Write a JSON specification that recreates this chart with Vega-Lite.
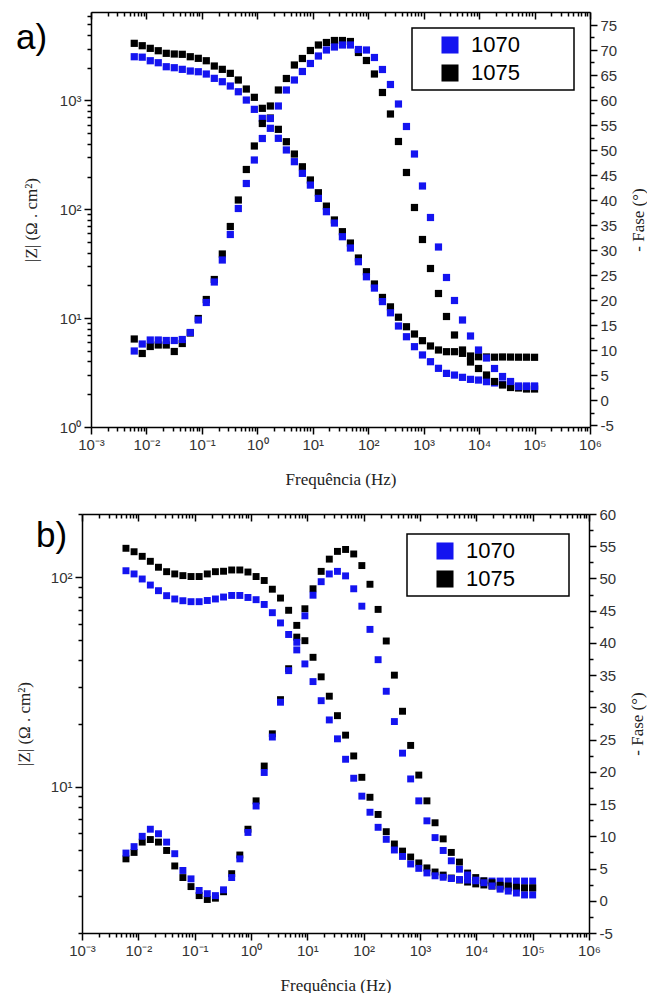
{
"$schema": "https://vega.github.io/schema/vega-lite/v6.json",
"padding": {"left": 15, "top": 8, "right": 0, "bottom": 0},
"autosize": {"type": "pad"},
"config": {
  "view": {"stroke": null},
  "axis": {"domainColor": "black", "domainWidth": 1.5, "tickColor": "black", "tickWidth": 1.5, "labelFont": "Liberation Sans", "labelFontSize": 15, "labelColor": "#333333", "titleFont": "Liberation Serif", "titleFontSize": 17, "titleFontWeight": "normal", "titleColor": "#222222", "grid": false, "labelFlush": false, "labelOverlap": false, "labelPadding": 3},
  "legend": {"strokeWidth": 1.5}
},
"datasets": {
"a": [
{"f":0.00603,"s":"1075","z":3350,"p":12.2},{"f":0.0084,"s":"1075","z":3185,"p":9.3},{"f":0.01172,"s":"1075","z":3013,"p":10.7},{"f":0.01634,"s":"1075","z":2865,"p":11.0},{"f":0.02278,"s":"1075","z":2712,"p":11.0},{"f":0.03177,"s":"1075","z":2673,"p":9.7},{"f":0.0443,"s":"1075","z":2655,"p":11.3},{"f":0.06177,"s":"1075","z":2523,"p":13.4},{"f":0.08613,"s":"1075","z":2439,"p":16.3},{"f":0.1201,"s":"1075","z":2318,"p":20.1},
{"f":0.1675,"s":"1075","z":2073,"p":24.1},{"f":0.2335,"s":"1075","z":1932,"p":29.2},{"f":0.3256,"s":"1075","z":1775,"p":34.7},{"f":0.4541,"s":"1075","z":1542,"p":40.0},{"f":0.6332,"s":"1075","z":1274,"p":46.1},{"f":0.8831,"s":"1075","z":1069,"p":50.8},{"f":1.231,"s":"1075","z":847,"p":55.3},{"f":1.717,"s":"1075","z":690,"p":58.8},{"f":2.394,"s":"1075","z":543,"p":62.0},{"f":3.339,"s":"1075","z":418,"p":64.3},
{"f":4.656,"s":"1075","z":322,"p":67.0},{"f":6.493,"s":"1075","z":246,"p":68.3},{"f":9.053,"s":"1075","z":186,"p":69.9},{"f":12.62,"s":"1075","z":142,"p":71.0},{"f":17.61,"s":"1075","z":107,"p":71.5},{"f":24.55,"s":"1075","z":79.8,"p":71.9},{"f":34.23,"s":"1075","z":62.3,"p":71.9},{"f":47.74,"s":"1075","z":49.0,"p":71.7},{"f":66.57,"s":"1075","z":35.7,"p":69.5},{"f":92.82,"s":"1075","z":26.7,"p":67.9},
{"f":129.4,"s":"1075","z":20.6,"p":65.2},{"f":180.5,"s":"1075","z":15.5,"p":61.5},{"f":251.7,"s":"1075","z":12.7,"p":57.2},{"f":351,"s":"1075","z":10.2,"p":51.7},{"f":489.4,"s":"1075","z":8.34,"p":45.5},{"f":682.4,"s":"1075","z":7.15,"p":38.5},{"f":951.5,"s":"1075","z":6.21,"p":32.1},{"f":1327,"s":"1075","z":5.55,"p":26.3},{"f":1850,"s":"1075","z":5.10,"p":21.3},{"f":2580,"s":"1075","z":4.92,"p":16.7},
{"f":3597,"s":"1075","z":4.92,"p":13.0},{"f":5016,"s":"1075","z":4.75,"p":10.0},{"f":6995,"s":"1075","z":4.49,"p":7.6},{"f":9754,"s":"1075","z":4.42,"p":6.3},{"f":13600,"s":"1075","z":4.40,"p":5.0},{"f":18970,"s":"1075","z":4.38,"p":3.7},{"f":26450,"s":"1075","z":4.40,"p":3.0},{"f":36880,"s":"1075","z":4.39,"p":2.5},{"f":51430,"s":"1075","z":4.38,"p":2.4},{"f":71710,"s":"1075","z":4.38,"p":2.2},{"f":100000,"s":"1075","z":4.37,"p":2.2},
{"f":0.00603,"s":"1070","z":2523,"p":9.8},{"f":0.0084,"s":"1070","z":2500,"p":11.2},{"f":0.01172,"s":"1070","z":2318,"p":12.0},{"f":0.01634,"s":"1070","z":2222,"p":12.0},{"f":0.02278,"s":"1070","z":2042,"p":11.9},{"f":0.03177,"s":"1070","z":2000,"p":11.9},{"f":0.0443,"s":"1070","z":1932,"p":12.1},{"f":0.06177,"s":"1070","z":1865,"p":13.5},{"f":0.08613,"s":"1070","z":1837,"p":16.0},{"f":0.1201,"s":"1070","z":1750,"p":19.5},
{"f":0.1675,"s":"1070","z":1597,"p":23.6},{"f":0.2335,"s":"1070","z":1487,"p":28.0},{"f":0.3256,"s":"1070","z":1358,"p":33.1},{"f":0.4541,"s":"1070","z":1203,"p":38.3},{"f":0.6332,"s":"1070","z":1009,"p":43.3},{"f":0.8831,"s":"1070","z":829,"p":48.0},{"f":1.231,"s":"1070","z":685,"p":52.3},{"f":1.717,"s":"1070","z":555,"p":56.3},{"f":2.394,"s":"1070","z":449,"p":58.8},{"f":3.339,"s":"1070","z":351,"p":62.0},
{"f":4.656,"s":"1070","z":274,"p":64.0},{"f":6.493,"s":"1070","z":214,"p":65.7},{"f":9.053,"s":"1070","z":167,"p":67.3},{"f":12.62,"s":"1070","z":126,"p":68.8},{"f":17.61,"s":"1070","z":95.1,"p":70.0},{"f":24.55,"s":"1070","z":74.8,"p":70.6},{"f":34.23,"s":"1070","z":56.0,"p":71.0},{"f":47.74,"s":"1070","z":44.1,"p":71.0},{"f":66.57,"s":"1070","z":33.0,"p":70.1},{"f":92.82,"s":"1070","z":24.0,"p":70.0},
{"f":129.4,"s":"1070","z":18.9,"p":68.5},{"f":180.5,"s":"1070","z":14.2,"p":66.1},{"f":251.7,"s":"1070","z":11.2,"p":63.1},{"f":351,"s":"1070","z":8.47,"p":59.2},{"f":489.4,"s":"1070","z":6.75,"p":54.7},{"f":682.4,"s":"1070","z":5.47,"p":49.2},{"f":951.5,"s":"1070","z":4.59,"p":42.8},{"f":1327,"s":"1070","z":3.98,"p":36.5},{"f":1850,"s":"1070","z":3.46,"p":30.6},{"f":2580,"s":"1070","z":3.11,"p":24.5},
{"f":3597,"s":"1070","z":3.00,"p":19.9},{"f":5016,"s":"1070","z":2.86,"p":16.0},{"f":6995,"s":"1070","z":2.74,"p":12.8},{"f":9754,"s":"1070","z":2.70,"p":10.0},{"f":13600,"s":"1070","z":2.61,"p":8.4},{"f":18970,"s":"1070","z":2.54,"p":6.3},{"f":26450,"s":"1070","z":2.48,"p":4.7},{"f":36880,"s":"1070","z":2.43,"p":3.7},{"f":51430,"s":"1070","z":2.38,"p":2.7},{"f":71710,"s":"1070","z":2.38,"p":2.7},{"f":100000,"s":"1070","z":2.38,"p":2.7}
],
"b": [
{"f":0.00603,"s":"1075","z":137.2,"p":6.5},{"f":0.0084,"s":"1075","z":132.1,"p":7.5},{"f":0.01172,"s":"1075","z":125.6,"p":9.1},{"f":0.01634,"s":"1075","z":118.9,"p":9.5},{"f":0.02278,"s":"1075","z":111.4,"p":9.1},{"f":0.03177,"s":"1075","z":106.1,"p":7.8},{"f":0.0443,"s":"1075","z":103.5,"p":5.4},{"f":0.06177,"s":"1075","z":101.6,"p":3.6},{"f":0.08613,"s":"1075","z":100.6,"p":2.2},{"f":0.1201,"s":"1075","z":100.6,"p":0.8},
{"f":0.1675,"s":"1075","z":103.5,"p":0.2},{"f":0.2335,"s":"1075","z":106.1,"p":0.4},{"f":0.3256,"s":"1075","z":106.6,"p":1.4},{"f":0.4541,"s":"1075","z":108.1,"p":4.2},{"f":0.6332,"s":"1075","z":108.1,"p":7.1},{"f":0.8831,"s":"1075","z":105.7,"p":11.1},{"f":1.231,"s":"1075","z":100.6,"p":15.5},{"f":1.717,"s":"1075","z":96.3,"p":20.9},{"f":2.394,"s":"1075","z":87.5,"p":25.9},{"f":3.339,"s":"1075","z":79.4,"p":31.2},
{"f":4.656,"s":"1075","z":69.4,"p":36.0},{"f":6.493,"s":"1075","z":58.8,"p":40.9},{"f":9.053,"s":"1075","z":49.7,"p":45.3},{"f":12.62,"s":"1075","z":41.4,"p":48.4},{"f":17.61,"s":"1075","z":33.4,"p":51.1},{"f":24.55,"s":"1075","z":27.0,"p":53.0},{"f":34.23,"s":"1075","z":21.8,"p":54.2},{"f":47.74,"s":"1075","z":17.6,"p":54.5},{"f":66.57,"s":"1075","z":14.0,"p":53.8},{"f":92.82,"s":"1075","z":11.07,"p":52.0},
{"f":129.4,"s":"1075","z":8.89,"p":49.1},{"f":180.5,"s":"1075","z":7.36,"p":45.2},{"f":251.7,"s":"1075","z":6.09,"p":40.3},{"f":351,"s":"1075","z":5.32,"p":35.0},{"f":489.4,"s":"1075","z":4.92,"p":29.4},{"f":682.4,"s":"1075","z":4.61,"p":24.1},{"f":951.5,"s":"1075","z":4.32,"p":19.5},{"f":1327,"s":"1075","z":4.09,"p":15.5},{"f":1850,"s":"1075","z":3.91,"p":12.1},{"f":2580,"s":"1075","z":3.78,"p":9.6},
{"f":3597,"s":"1075","z":3.66,"p":7.5},{"f":5016,"s":"1075","z":3.58,"p":6.0},{"f":6995,"s":"1075","z":3.50,"p":4.3},{"f":9754,"s":"1075","z":3.43,"p":3.6},{"f":13600,"s":"1075","z":3.39,"p":3.1},{"f":18970,"s":"1075","z":3.35,"p":2.8},{"f":26450,"s":"1075","z":3.32,"p":2.4},{"f":36880,"s":"1075","z":3.28,"p":2.3},{"f":51430,"s":"1075","z":3.28,"p":2.1},{"f":71710,"s":"1075","z":3.28,"p":2.0},{"f":100000,"s":"1075","z":3.28,"p":2.0},
{"f":0.00603,"s":"1070","z":107.2,"p":7.4},{"f":0.0084,"s":"1070","z":103.5,"p":8.4},{"f":0.01172,"s":"1070","z":97.9,"p":10.0},{"f":0.01634,"s":"1070","z":91.6,"p":11.1},{"f":0.02278,"s":"1070","z":86.1,"p":10.4},{"f":0.03177,"s":"1070","z":81.5,"p":9.1},{"f":0.0443,"s":"1070","z":78.6,"p":7.3},{"f":0.06177,"s":"1070","z":77.1,"p":4.7},{"f":0.08613,"s":"1070","z":76.3,"p":3.4},{"f":0.1201,"s":"1070","z":76.3,"p":1.6},
{"f":0.1675,"s":"1070","z":77.3,"p":1.1},{"f":0.2335,"s":"1070","z":78.6,"p":0.8},{"f":0.3256,"s":"1070","z":80.3,"p":1.7},{"f":0.4541,"s":"1070","z":81.7,"p":3.6},{"f":0.6332,"s":"1070","z":81.7,"p":6.5},{"f":0.8831,"s":"1070","z":79.9,"p":10.6},{"f":1.231,"s":"1070","z":78.0,"p":14.7},{"f":1.717,"s":"1070","z":74.0,"p":19.9},{"f":2.394,"s":"1070","z":67.6,"p":25.4},{"f":3.339,"s":"1070","z":60.4,"p":30.8},
{"f":4.656,"s":"1070","z":53.2,"p":35.7},{"f":6.493,"s":"1070","z":44.9,"p":40.1},{"f":9.053,"s":"1070","z":38.5,"p":44.2},{"f":12.62,"s":"1070","z":31.7,"p":47.4},{"f":17.61,"s":"1070","z":25.7,"p":49.5},{"f":24.55,"s":"1070","z":20.8,"p":50.7},{"f":34.23,"s":"1070","z":16.9,"p":51.1},{"f":47.74,"s":"1070","z":13.5,"p":50.4},{"f":66.57,"s":"1070","z":10.96,"p":48.4},{"f":92.82,"s":"1070","z":9.00,"p":45.7},
{"f":129.4,"s":"1070","z":7.54,"p":42.1},{"f":180.5,"s":"1070","z":6.39,"p":37.4},{"f":251.7,"s":"1070","z":5.60,"p":32.5},{"f":351,"s":"1070","z":4.98,"p":27.8},{"f":489.4,"s":"1070","z":4.64,"p":22.9},{"f":682.4,"s":"1070","z":4.27,"p":18.9},{"f":951.5,"s":"1070","z":4.07,"p":15.5},{"f":1327,"s":"1070","z":3.87,"p":12.4},{"f":1850,"s":"1070","z":3.75,"p":9.8},{"f":2580,"s":"1070","z":3.69,"p":7.8},
{"f":3597,"s":"1070","z":3.64,"p":6.2},{"f":5016,"s":"1070","z":3.60,"p":4.9},{"f":6995,"s":"1070","z":3.58,"p":4.0},{"f":9754,"s":"1070","z":3.55,"p":3.2},{"f":13600,"s":"1070","z":3.54,"p":2.8},{"f":18970,"s":"1070","z":3.54,"p":2.3},{"f":26450,"s":"1070","z":3.54,"p":1.8},{"f":36880,"s":"1070","z":3.54,"p":1.5},{"f":51430,"s":"1070","z":3.54,"p":1.2},{"f":71710,"s":"1070","z":3.54,"p":0.9},{"f":100000,"s":"1070","z":3.54,"p":0.9}
]
},
"vconcat": [
{
  "width": 508, "height": 415,
  "title": {"text": "a)", "anchor": "start", "frame": "group", "dx": -66, "dy": 47, "offset": 0, "fontSize": 35, "font": "Liberation Sans", "fontWeight": "normal", "color": "black"},
  "data": {"name": "a"},
  "layer": [
    {
      "mark": {"type": "square", "size": 52, "opacity": 1},
      "encoding": {
        "x": {"field": "f", "type": "quantitative", "scale": {"type": "log", "domain": [0.001, 1000000], "range": [9, 508]},
          "axis": {"orient": "bottom", "title": "Frequência (Hz)", "titlePadding": 19,
            "values": [0.001,0.002,0.003,0.004,0.005,0.006,0.007,0.008,0.009,0.01,0.02,0.03,0.04,0.05,0.06,0.07,0.08,0.09,0.1,0.2,0.3,0.4,0.5,0.6,0.7,0.8,0.9,1,2,3,4,5,6,7,8,9,10,20,30,40,50,60,70,80,90,100,200,300,400,500,600,700,800,900,1000,2000,3000,4000,5000,6000,7000,8000,9000,10000,20000,30000,40000,50000,60000,70000,80000,90000,100000,200000,300000,400000,500000,600000,700000,800000,900000,1000000],
            "labelExpr": "abs(log(datum.value)/LN10 - round(log(datum.value)/LN10)) < 0.0001 ? '10' + ['⁻³','⁻²','⁻¹','⁰','¹','²','³','⁴','⁵','⁶'][round(log(datum.value)/LN10) + 3] : ''",
            "tickSize": {"condition": {"test": "abs(log(datum.value)/LN10 - round(log(datum.value)/LN10)) < 0.0001", "value": 7}, "value": 4}}},
        "y": {"field": "z", "type": "quantitative", "scale": {"type": "log", "domain": [1, 6500]},
          "axis": {"orient": "left", "offset": -9, "title": "|Z| (Ω . cm²)", "titlePadding": 19,
            "values": [1,2,3,4,5,6,7,8,9,10,20,30,40,50,60,70,80,90,100,200,300,400,500,600,700,800,900,1000,2000,3000,4000,5000,6000],
            "labelExpr": "abs(log(datum.value)/LN10 - round(log(datum.value)/LN10)) < 0.0001 ? '10' + ['⁻³','⁻²','⁻¹','⁰','¹','²','³','⁴','⁵','⁶'][round(log(datum.value)/LN10) + 3] : ''",
            "tickSize": {"condition": {"test": "abs(log(datum.value)/LN10 - round(log(datum.value)/LN10)) < 0.0001", "value": 7}, "value": 4}}},
        "color": {"field": "s", "type": "nominal", "scale": {"domain": ["1070", "1075"], "range": ["#1414f0", "#000000"]},
          "legend": {"title": "\u2800\u2800\u2800", "titleOrient": "right", "titleFontSize": 22, "titlePadding": 0, "orient": "top-right", "offset": 16, "strokeColor": "black", "fillColor": "white", "padding": 6, "symbolType": "square", "symbolSize": 290, "symbolStrokeWidth": 0, "symbolOpacity": 1, "symbolOffset": 21, "labelOffset": 10, "rowPadding": 6, "labelFontSize": 22, "labelFont": "Liberation Sans", "labelColor": "black"}}
      }
    },
    {
      "mark": {"type": "square", "size": 52, "opacity": 1},
      "encoding": {
        "x": {"field": "f", "type": "quantitative", "scale": {"type": "log", "domain": [0.001, 1000000], "range": [9, 508]},
          "axis": {"orient": "top", "title": null, "labels": false,
            "values": [0.001,0.002,0.003,0.004,0.005,0.006,0.007,0.008,0.009,0.01,0.02,0.03,0.04,0.05,0.06,0.07,0.08,0.09,0.1,0.2,0.3,0.4,0.5,0.6,0.7,0.8,0.9,1,2,3,4,5,6,7,8,9,10,20,30,40,50,60,70,80,90,100,200,300,400,500,600,700,800,900,1000,2000,3000,4000,5000,6000,7000,8000,9000,10000,20000,30000,40000,50000,60000,70000,80000,90000,100000,200000,300000,400000,500000,600000,700000,800000,900000,1000000],
            "tickSize": {"condition": {"test": "abs(log(datum.value)/LN10 - round(log(datum.value)/LN10)) < 0.0001", "value": -7}, "value": -4}}},
        "y": {"field": "p", "type": "quantitative", "scale": {"domain": [-5.4, 77.6], "nice": false, "zero": false},
          "axis": {"orient": "right", "title": "- Fase (°)", "titleAngle": 270, "titleBaseline": "top", "titlePadding": 14,
            "values": [-5,-2.5,0,2.5,5,7.5,10,12.5,15,17.5,20,22.5,25,27.5,30,32.5,35,37.5,40,42.5,45,47.5,50,52.5,55,57.5,60,62.5,65,67.5,70,72.5,75],
            "labelExpr": "datum.value % 5 == 0 ? (datum.value < 0 ? '-' + abs(datum.value) : '' + datum.value) : ''",
            "tickSize": {"condition": {"test": "datum.value % 5 == 0", "value": 7}, "value": 4}}},
        "color": {"field": "s", "type": "nominal", "scale": {"domain": ["1070", "1075"], "range": ["#1414f0", "#000000"]},
          "legend": {"title": "\u2800\u2800\u2800", "titleOrient": "right", "titleFontSize": 22, "titlePadding": 0, "orient": "top-right", "offset": 16, "strokeColor": "black", "fillColor": "white", "padding": 6, "symbolType": "square", "symbolSize": 290, "symbolStrokeWidth": 0, "symbolOpacity": 1, "symbolOffset": 21, "labelOffset": 10, "rowPadding": 6, "labelFontSize": 22, "labelFont": "Liberation Sans", "labelColor": "black"}}
      }
    }
  ],
  "resolve": {"scale": {"y": "independent"}, "axis": {"x": "independent"}}
},
{
  "width": 507, "height": 419,
  "title": {"text": "b)", "anchor": "start", "frame": "group", "dx": -46, "dy": 47, "offset": 0, "fontSize": 35, "font": "Liberation Sans", "fontWeight": "normal", "color": "black"},
  "data": {"name": "b"},
  "layer": [
    {
      "mark": {"type": "square", "size": 48, "opacity": 1},
      "encoding": {
        "x": {"field": "f", "type": "quantitative", "scale": {"type": "log", "domain": [0.001, 1000000]},
          "axis": {"orient": "bottom", "title": "Frequência (Hz)", "titlePadding": 19,
            "values": [0.001,0.002,0.003,0.004,0.005,0.006,0.007,0.008,0.009,0.01,0.02,0.03,0.04,0.05,0.06,0.07,0.08,0.09,0.1,0.2,0.3,0.4,0.5,0.6,0.7,0.8,0.9,1,2,3,4,5,6,7,8,9,10,20,30,40,50,60,70,80,90,100,200,300,400,500,600,700,800,900,1000,2000,3000,4000,5000,6000,7000,8000,9000,10000,20000,30000,40000,50000,60000,70000,80000,90000,100000,200000,300000,400000,500000,600000,700000,800000,900000,1000000],
            "labelExpr": "abs(log(datum.value)/LN10 - round(log(datum.value)/LN10)) < 0.0001 ? '10' + ['⁻³','⁻²','⁻¹','⁰','¹','²','³','⁴','⁵','⁶'][round(log(datum.value)/LN10) + 3] : ''",
            "tickSize": {"condition": {"test": "abs(log(datum.value)/LN10 - round(log(datum.value)/LN10)) < 0.0001", "value": 7}, "value": 4}}},
        "y": {"field": "z", "type": "quantitative", "scale": {"type": "log", "domain": [2, 200]},
          "axis": {"orient": "left", "title": "|Z| (Ω . cm²)", "titlePadding": 17,
            "values": [2,3,4,5,6,7,8,9,10,20,30,40,50,60,70,80,90,100,200],
            "labelExpr": "abs(log(datum.value)/LN10 - round(log(datum.value)/LN10)) < 0.0001 ? '10' + ['⁻³','⁻²','⁻¹','⁰','¹','²','³','⁴','⁵','⁶'][round(log(datum.value)/LN10) + 3] : ''",
            "tickSize": {"condition": {"test": "abs(log(datum.value)/LN10 - round(log(datum.value)/LN10)) < 0.0001", "value": 7}, "value": 4}}},
        "color": {"field": "s", "type": "nominal", "scale": {"domain": ["1070", "1075"], "range": ["#1414f0", "#000000"]},
          "legend": {"title": "\u2800\u2800\u2800", "titleOrient": "right", "titleFontSize": 22, "titlePadding": 0, "orient": "top-right", "offset": 20, "strokeColor": "black", "fillColor": "white", "padding": 6, "symbolType": "square", "symbolSize": 290, "symbolStrokeWidth": 0, "symbolOpacity": 1, "symbolOffset": 21, "labelOffset": 10, "rowPadding": 6, "labelFontSize": 22, "labelFont": "Liberation Sans", "labelColor": "black"}}
      }
    },
    {
      "mark": {"type": "square", "size": 48, "opacity": 1},
      "encoding": {
        "x": {"field": "f", "type": "quantitative", "scale": {"type": "log", "domain": [0.001, 1000000]},
          "axis": {"orient": "top", "title": null, "labels": false,
            "values": [0.001,0.002,0.003,0.004,0.005,0.006,0.007,0.008,0.009,0.01,0.02,0.03,0.04,0.05,0.06,0.07,0.08,0.09,0.1,0.2,0.3,0.4,0.5,0.6,0.7,0.8,0.9,1,2,3,4,5,6,7,8,9,10,20,30,40,50,60,70,80,90,100,200,300,400,500,600,700,800,900,1000,2000,3000,4000,5000,6000,7000,8000,9000,10000,20000,30000,40000,50000,60000,70000,80000,90000,100000,200000,300000,400000,500000,600000,700000,800000,900000,1000000],
            "tickSize": {"condition": {"test": "abs(log(datum.value)/LN10 - round(log(datum.value)/LN10)) < 0.0001", "value": -7}, "value": -4}}},
        "y": {"field": "p", "type": "quantitative", "scale": {"domain": [-5, 60], "nice": false, "zero": false},
          "axis": {"orient": "right", "title": "- Fase (°)", "titleAngle": 270, "titleBaseline": "top", "titlePadding": 14,
            "values": [-5,-2.5,0,2.5,5,7.5,10,12.5,15,17.5,20,22.5,25,27.5,30,32.5,35,37.5,40,42.5,45,47.5,50,52.5,55,57.5,60],
            "labelExpr": "datum.value % 5 == 0 ? (datum.value < 0 ? '-' + abs(datum.value) : '' + datum.value) : ''",
            "tickSize": {"condition": {"test": "datum.value % 5 == 0", "value": 7}, "value": 4}}},
        "color": {"field": "s", "type": "nominal", "scale": {"domain": ["1070", "1075"], "range": ["#1414f0", "#000000"]},
          "legend": {"title": "\u2800\u2800\u2800", "titleOrient": "right", "titleFontSize": 22, "titlePadding": 0, "orient": "top-right", "offset": 20, "strokeColor": "black", "fillColor": "white", "padding": 6, "symbolType": "square", "symbolSize": 290, "symbolStrokeWidth": 0, "symbolOpacity": 1, "symbolOffset": 21, "labelOffset": 10, "rowPadding": 6, "labelFontSize": 22, "labelFont": "Liberation Sans", "labelColor": "black"}}
      }
    }
  ],
  "resolve": {"scale": {"y": "independent"}, "axis": {"x": "independent"}}
}
],
"spacing": 20,
"resolve": {"scale": {"color": "independent", "x": "independent", "y": "independent"}, "legend": {"color": "independent"}}
}
